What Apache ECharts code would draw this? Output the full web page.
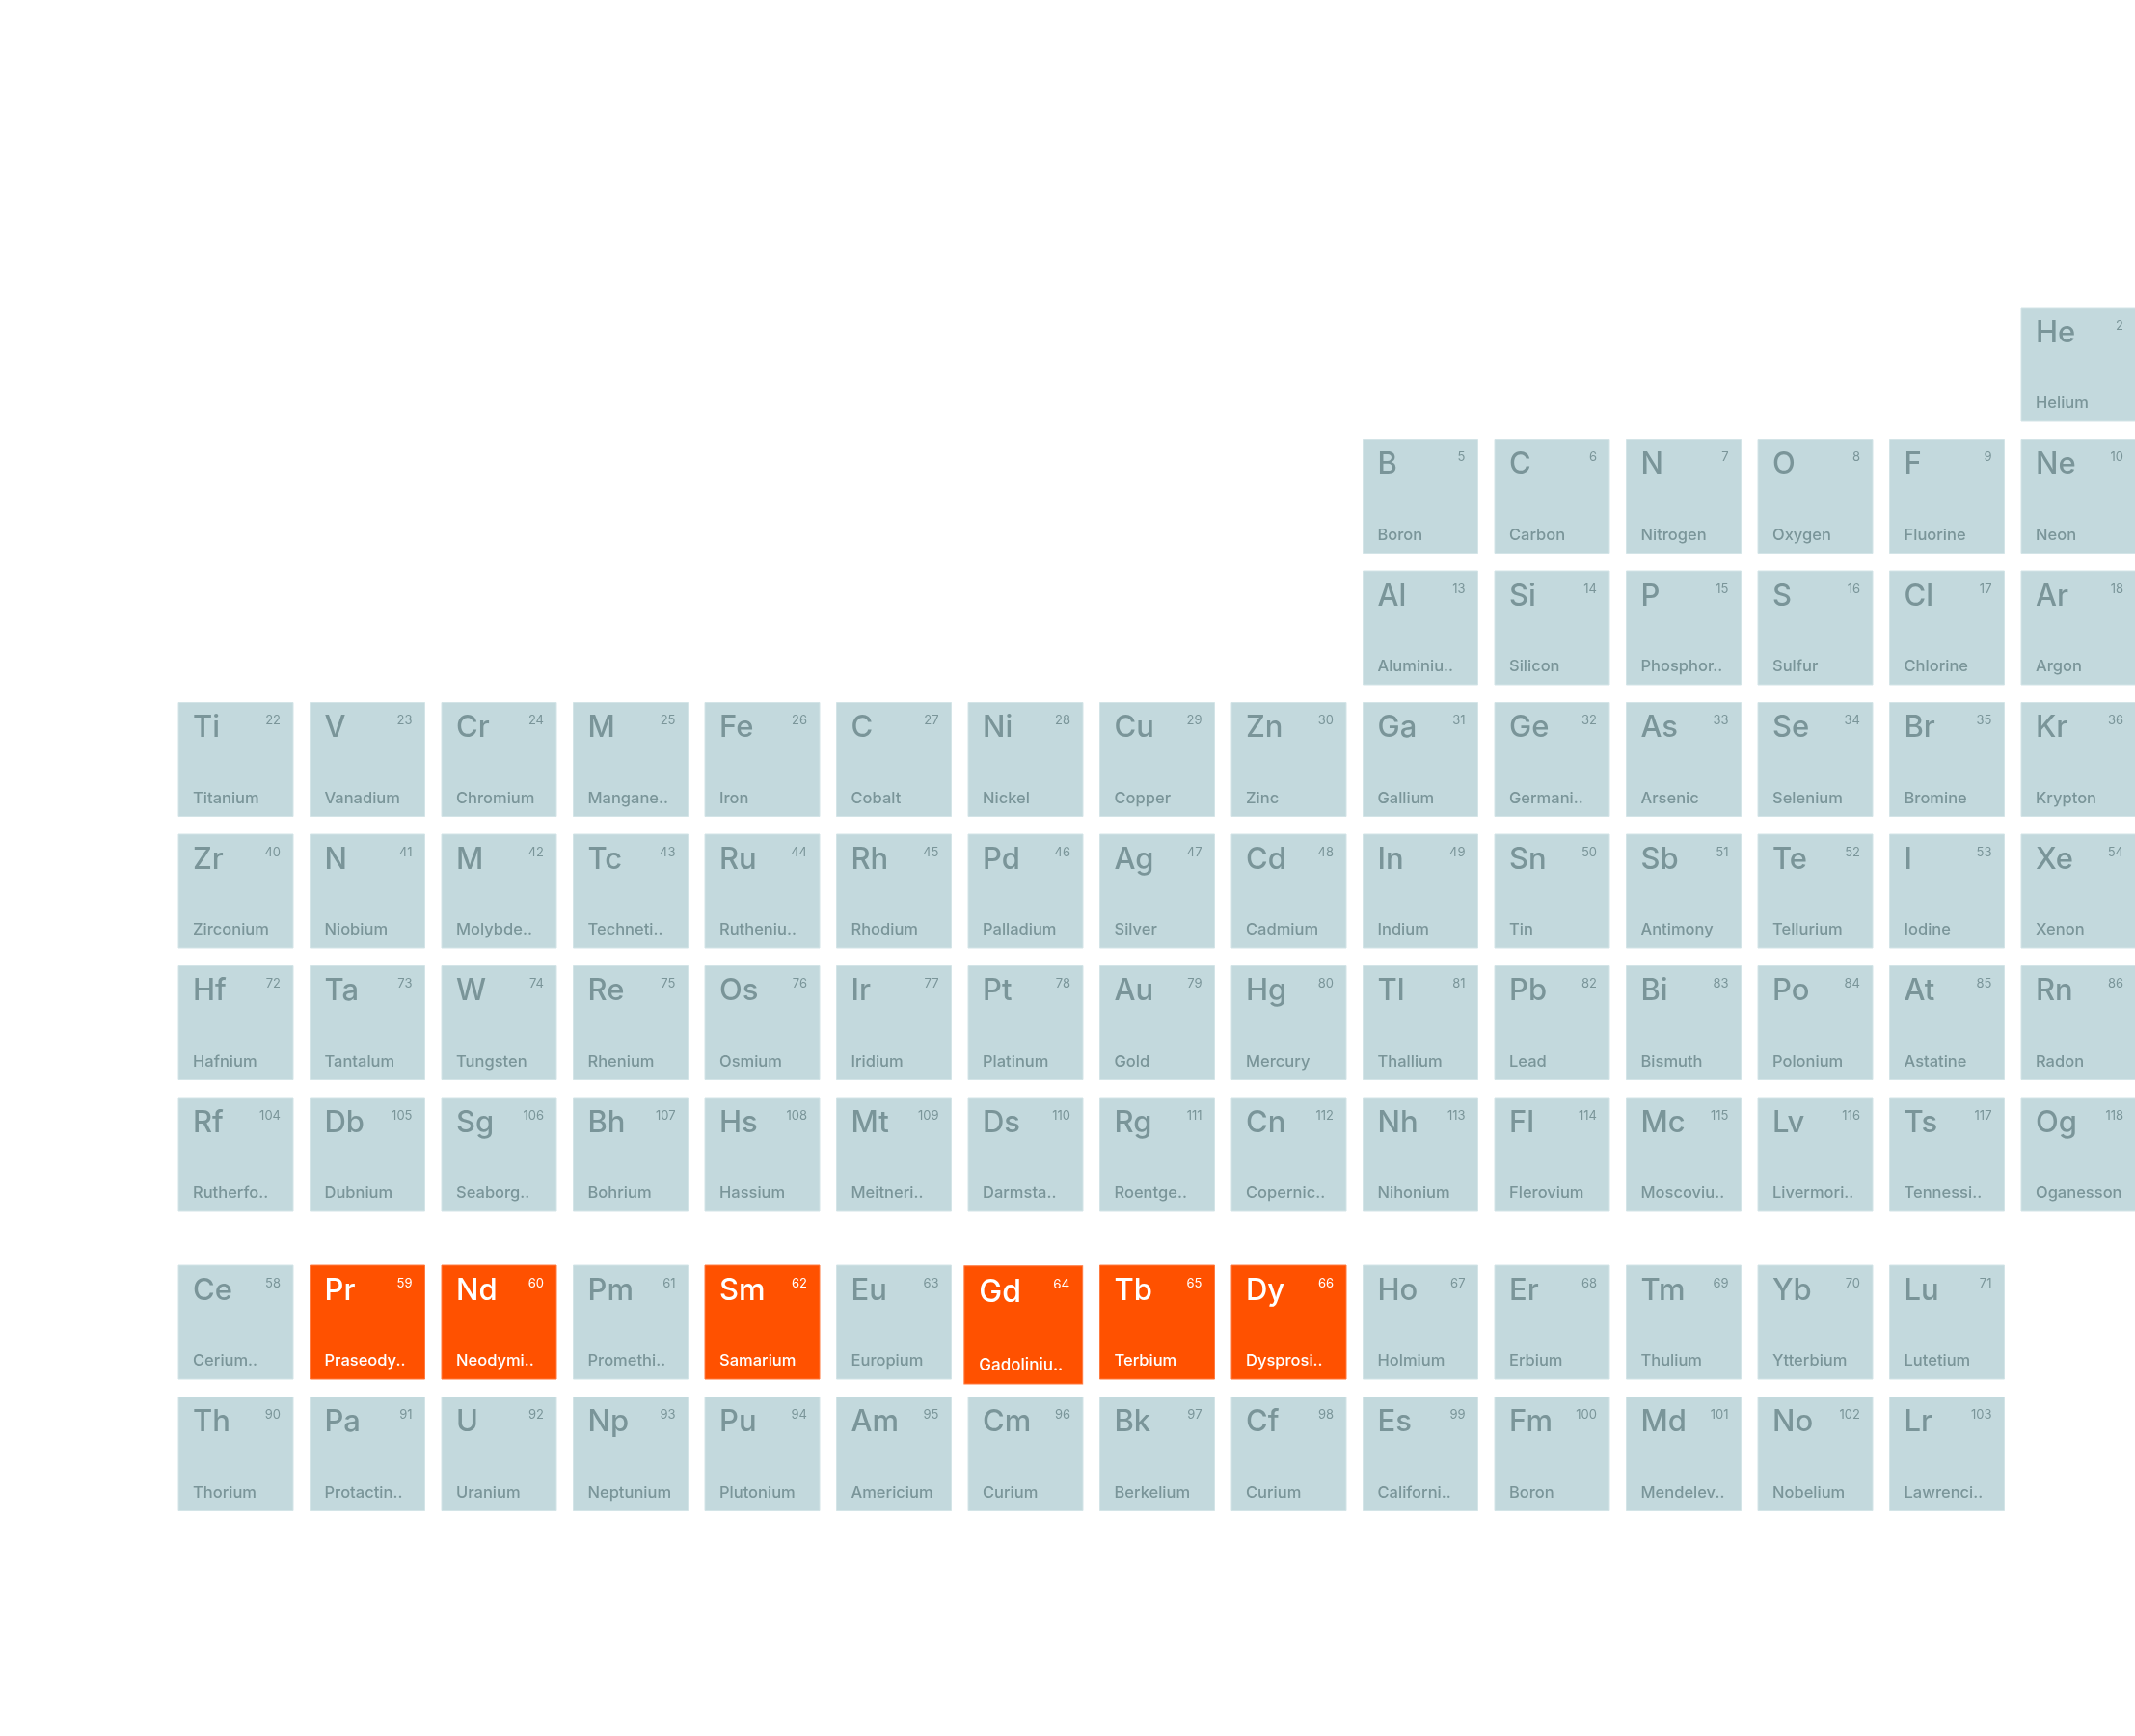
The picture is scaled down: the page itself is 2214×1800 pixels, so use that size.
<!DOCTYPE html>
<html>
<head>
<meta charset="utf-8">
<title>Periodic table</title>
<script src="https://cdn.jsdelivr.net/npm/echarts@6/dist/echarts.min.js"></script>
<style>
  html, body { margin: 0; padding: 0; background: #ffffff; }
  #table_chart { width: 2214px; height: 1800px; }
</style>
</head>
<body>
<div id="table_chart"></div>
<script>
// element data, one entry per visible cell
const symbols = [
  'He',
  'B', 'C', 'N', 'O', 'F', 'Ne',
  'Al', 'Si', 'P', 'S', 'Cl', 'Ar',
  'Ti', 'V', 'Cr', 'M', 'Fe', 'C', 'Ni', 'Cu', 'Zn', 'Ga', 'Ge', 'As', 'Se', 'Br', 'Kr',
  'Zr', 'N', 'M', 'Tc', 'Ru', 'Rh', 'Pd', 'Ag', 'Cd', 'In', 'Sn', 'Sb', 'Te', 'I', 'Xe',
  'Hf', 'Ta', 'W', 'Re', 'Os', 'Ir', 'Pt', 'Au', 'Hg', 'Tl', 'Pb', 'Bi', 'Po', 'At', 'Rn',
  'Rf', 'Db', 'Sg', 'Bh', 'Hs', 'Mt', 'Ds', 'Rg', 'Cn', 'Nh', 'Fl', 'Mc', 'Lv', 'Ts', 'Og',
  'Ce', 'Pr', 'Nd', 'Pm', 'Sm', 'Eu', 'Gd', 'Tb', 'Dy', 'Ho', 'Er', 'Tm', 'Yb', 'Lu',
  'Th', 'Pa', 'U', 'Np', 'Pu', 'Am', 'Cm', 'Bk', 'Cf', 'Es', 'Fm', 'Md', 'No', 'Lr'
];
const numbers = [
  2,
  5, 6, 7, 8, 9, 10,
  13, 14, 15, 16, 17, 18,
  22, 23, 24, 25, 26, 27, 28, 29, 30, 31, 32, 33, 34, 35, 36,
  40, 41, 42, 43, 44, 45, 46, 47, 48, 49, 50, 51, 52, 53, 54,
  72, 73, 74, 75, 76, 77, 78, 79, 80, 81, 82, 83, 84, 85, 86,
  104, 105, 106, 107, 108, 109, 110, 111, 112, 113, 114, 115, 116, 117, 118,
  58, 59, 60, 61, 62, 63, 64, 65, 66, 67, 68, 69, 70, 71,
  90, 91, 92, 93, 94, 95, 96, 97, 98, 99, 100, 101, 102, 103
];
const names = [
  'Helium',
  'Boron', 'Carbon', 'Nitrogen', 'Oxygen', 'Fluorine', 'Neon',
  'Aluminiu..', 'Silicon', 'Phosphor..', 'Sulfur', 'Chlorine', 'Argon',
  'Titanium', 'Vanadium', 'Chromium', 'Mangane..', 'Iron', 'Cobalt', 'Nickel', 'Copper', 'Zinc',
  'Gallium', 'Germani..', 'Arsenic', 'Selenium', 'Bromine', 'Krypton',
  'Zirconium', 'Niobium', 'Molybde..', 'Techneti..', 'Rutheniu..', 'Rhodium', 'Palladium', 'Silver',
  'Cadmium', 'Indium', 'Tin', 'Antimony', 'Tellurium', 'Iodine', 'Xenon',
  'Hafnium', 'Tantalum', 'Tungsten', 'Rhenium', 'Osmium', 'Iridium', 'Platinum', 'Gold', 'Mercury',
  'Thallium', 'Lead', 'Bismuth', 'Polonium', 'Astatine', 'Radon',
  'Rutherfo..', 'Dubnium', 'Seaborg..', 'Bohrium', 'Hassium', 'Meitneri..', 'Darmsta..', 'Roentge..',
  'Copernic..', 'Nihonium', 'Flerovium', 'Moscoviu..', 'Livermori..', 'Tennessi..', 'Oganesson',
  'Cerium..', 'Praseody..', 'Neodymi..', 'Promethi..', 'Samarium', 'Europium', 'Gadoliniu..',
  'Terbium', 'Dysprosi..', 'Holmium', 'Erbium', 'Thulium', 'Ytterbium', 'Lutetium',
  'Thorium', 'Protactin..', 'Uranium', 'Neptunium', 'Plutonium', 'Americium', 'Curium',
  'Berkelium', 'Curium', 'Californi..', 'Boron', 'Mendelev..', 'Nobelium', 'Lawrenci..'
];
const groups = [
  18,
  13, 14, 15, 16, 17, 18,
  13, 14, 15, 16, 17, 18,
  4, 5, 6, 7, 8, 9, 10, 11, 12, 13, 14, 15, 16, 17, 18,
  4, 5, 6, 7, 8, 9, 10, 11, 12, 13, 14, 15, 16, 17, 18,
  4, 5, 6, 7, 8, 9, 10, 11, 12, 13, 14, 15, 16, 17, 18,
  4, 5, 6, 7, 8, 9, 10, 11, 12, 13, 14, 15, 16, 17, 18,
  4, 5, 6, 7, 8, 9, 10, 11, 12, 13, 14, 15, 16, 17,
  4, 5, 6, 7, 8, 9, 10, 11, 12, 13, 14, 15, 16, 17
];
// rows 8 and 9 are the lanthanide and actinide rows
const periods = [
  1,
  2, 2, 2, 2, 2, 2,
  3, 3, 3, 3, 3, 3,
  4, 4, 4, 4, 4, 4, 4, 4, 4, 4, 4, 4, 4, 4, 4,
  5, 5, 5, 5, 5, 5, 5, 5, 5, 5, 5, 5, 5, 5, 5,
  6, 6, 6, 6, 6, 6, 6, 6, 6, 6, 6, 6, 6, 6, 6,
  7, 7, 7, 7, 7, 7, 7, 7, 7, 7, 7, 7, 7, 7, 7,
  8, 8, 8, 8, 8, 8, 8, 8, 8, 8, 8, 8, 8, 8,
  9, 9, 9, 9, 9, 9, 9, 9, 9, 9, 9, 9, 9, 9
];
const highlighted = ['Pr', 'Nd', 'Sm', 'Gd', 'Tb', 'Dy'];
const hovered = 'Gd';

const PITCH = 136.5;
const GRID_LEFT = 185;
const GRID_TOP = 319;
const F_BLOCK_GAP = 0.275;

const chartData = symbols.map((s, i) => [groups[i], periods[i], i]);

const myChart = echarts.init(document.getElementById('table_chart'), null, { renderer: 'canvas' });

const renderItem = (params, api) => {
  const i = api.value(2);
  const period = api.value(1);
  const row = period >= 8 ? period + F_BLOCK_GAP : period;
  const pt = api.coord([api.value(0), row]);
  const size = api.size([1, 1]);
  const w = size[0] - 17.5;
  const h = size[1] - 18.5;
  const x = pt[0];
  const y = pt[1];
  const isHot = highlighted.indexOf(symbols[i]) >= 0;
  const textColor = isHot ? '#ffffff' : '#7a9599';
  const fam = 'Inter, "Noto Sans", sans-serif';
  const big = symbols[i] === hovered;
  return {
    type: 'group',
    originX: x + w + 10,
    originY: y - 20,
    scaleX: big ? 1.032 : 1,
    scaleY: big ? 1.036 : 1,
    children: [
      {
        type: 'rect',
        shape: { x: x, y: y, width: w, height: h },
        style: {
          fill: isHot ? '#ff5100' : '#c3d9dd',
          stroke: isHot ? '#ff7a40' : '#d3e4e7',
          lineWidth: 1
        }
      },
      {
        type: 'text',
        style: {
          text: symbols[i],
          x: x + 15,
          y: y + 26.5,
          fill: textColor,
          font: '500 31px ' + fam,
          align: 'left',
          verticalAlign: 'middle'
        }
      },
      {
        type: 'text',
        style: {
          text: String(numbers[i]),
          x: x + w - 13,
          y: y + 19,
          fill: textColor,
          font: '400 13px ' + fam,
          align: 'right',
          verticalAlign: 'middle'
        }
      },
      {
        type: 'text',
        style: {
          text: names[i],
          x: x + 15,
          y: y + 99.5,
          fill: textColor,
          font: '500 16.5px ' + fam,
          align: 'left',
          verticalAlign: 'middle'
        }
      }
    ]
  };
};

const option = {
  animation: false,
  backgroundColor: '#ffffff',
  grid: {
    left: GRID_LEFT,
    top: GRID_TOP,
    right: 0,
    bottom: 0
  },
  xAxis: {
    type: 'value',
    min: 4,
    max: 4 + (2214 - GRID_LEFT) / PITCH,
    show: false
  },
  yAxis: {
    type: 'value',
    inverse: true,
    min: 1,
    max: 1 + (1800 - GRID_TOP) / PITCH,
    show: false
  },
  series: [
    {
      type: 'custom',
      name: 'elements',
      renderItem: renderItem,
      clip: false,
      encode: { x: 0, y: 1 },
      data: chartData
    }
  ]
};
myChart.setOption(option);
</script>
</body>
</html>
